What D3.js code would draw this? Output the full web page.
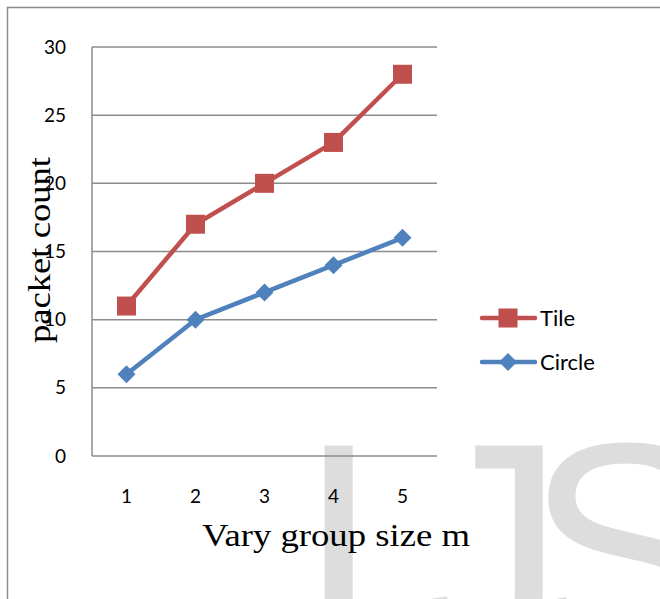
<!DOCTYPE html>
<html>
<head>
<meta charset="utf-8">
<script src="https://cdn.jsdelivr.net/npm/d3@7"></script>
<style>
  html, body { margin: 0; padding: 0; background: #fff; }
  svg { display: block; }
</style>
</head>
<body>
<svg id="chart" width="660" height="599"></svg>
<script>
// Packet count for each group size
const groupSizes = [1, 2, 3, 4, 5];
const tileCounts = [11, 17, 20, 23, 28];
const circleCounts = [6, 10, 12, 14, 16];
const yTicks = [0, 5, 10, 15, 20, 25, 30];
const seriesNames = ["Tile", "Circle"];
const seriesColors = ["#C0504D", "#4F81BD"];
const watermarkLetters = ["I", "J", "S"];

const svg = d3.select("#chart");
const W = 660, H = 599;
const plot = { left: 92, top: 47, right: 437, bottom: 456 };

// Watermark lettering behind the chart, one glyph at a time
const wm = svg.append("g")
  .attr("font-family", "'Liberation Sans', Arial, sans-serif")
  .attr("font-size", 300)
  .attr("fill", "#dddddd");
const wmX = [297, 415, 525];
watermarkLetters.forEach((ch, i) => {
  wm.append("text").attr("x", wmX[i]).attr("y", 652).text(ch);
});

// Outer frame
svg.append("rect")
  .attr("x", 7.5).attr("y", 7.5)
  .attr("width", W + 20).attr("height", H + 20)
  .attr("fill", "none").attr("stroke", "#8c8c8c").attr("stroke-width", 1.5);

const x = d3.scaleBand().domain(groupSizes).range([plot.left, plot.right]);
const y = d3.scaleLinear().domain([0, 30]).range([plot.bottom, plot.top]);

// Horizontal gridlines
svg.append("g").selectAll("line").data(yTicks).join("line")
  .attr("x1", plot.left).attr("x2", plot.right)
  .attr("y1", d => y(d)).attr("y2", d => y(d))
  .attr("stroke", "#8c8c8c").attr("stroke-width", 1.5);

// Vertical axis line
svg.append("line")
  .attr("x1", plot.left).attr("x2", plot.left)
  .attr("y1", plot.top).attr("y2", plot.bottom)
  .attr("stroke", "#8c8c8c").attr("stroke-width", 1.5);

// Y tick labels
const yAxis = d3.axisLeft(y).tickValues(yTicks).tickSize(0).tickPadding(26);
const gy = svg.append("g").attr("transform", `translate(${plot.left},0)`).call(yAxis);
gy.select(".domain").remove();
gy.selectAll("text")
  .attr("font-family", "Lato, 'Open Sans', sans-serif")
  .attr("font-size", 19).attr("fill", "#000");

// X tick labels
const xAxis = d3.axisBottom(x).tickSize(0).tickPadding(34);
const gx = svg.append("g").attr("transform", `translate(0,${plot.bottom})`).call(xAxis);
gx.select(".domain").remove();
gx.selectAll("text")
  .attr("font-family", "Lato, 'Open Sans', sans-serif")
  .attr("font-size", 19).attr("fill", "#000");

const cx = d => x(d) + x.bandwidth() / 2;
const series = [
  { name: seriesNames[0], color: seriesColors[0], values: tileCounts, marker: "square" },
  { name: seriesNames[1], color: seriesColors[1], values: circleCounts, marker: "diamond" }
];

const line = d3.line().x(d => cx(d[0])).y(d => y(d[1]));

function drawMarker(g, kind, color, px, py) {
  if (kind === "square") {
    g.append("rect")
      .attr("x", px - 9.5).attr("y", py - 9.5)
      .attr("width", 19).attr("height", 19)
      .attr("fill", color);
  } else {
    const r = 9;
    g.append("path")
      .attr("d", `M${px},${py - r}L${px + r},${py}L${px},${py + r}L${px - r},${py}Z`)
      .attr("fill", color);
  }
}

series.forEach(s => {
  const pts = groupSizes.map((g, i) => [g, s.values[i]]);
  svg.append("path")
    .attr("d", line(pts))
    .attr("fill", "none").attr("stroke", s.color)
    .attr("stroke-width", 4.5).attr("stroke-linejoin", "round").attr("stroke-linecap", "round");
  const mg = svg.append("g");
  pts.forEach(p => drawMarker(mg, s.marker, s.color, cx(p[0]), y(p[1])));
});

// Legend
const legend = svg.append("g");
series.forEach((s, i) => {
  const ly = 318 + i * 44;
  legend.append("line")
    .attr("x1", 482).attr("x2", 535).attr("y1", ly).attr("y2", ly)
    .attr("stroke", s.color).attr("stroke-width", 4.5).attr("stroke-linecap", "round");
  drawMarker(legend, s.marker, s.color, 508, ly);
  legend.append("text")
    .attr("x", 540).attr("y", ly).attr("dy", "0.35em")
    .attr("font-family", "Lato, 'Open Sans', sans-serif")
    .attr("font-size", 22).attr("fill", "#000")
    .text(s.name);
});

// Axis titles (slightly widened serif lettering)
svg.append("text")
  .attr("transform", "translate(50,250) rotate(-90)")
  .attr("text-anchor", "middle")
  .attr("font-family", "'Liberation Serif', 'Times New Roman', serif")
  .attr("font-size", 31).attr("fill", "#000")
  .attr("textLength", 186).attr("lengthAdjust", "spacingAndGlyphs")
  .text("packet count");

svg.append("text")
  .attr("x", 336).attr("y", 546)
  .attr("text-anchor", "middle")
  .attr("font-family", "'Liberation Serif', 'Times New Roman', serif")
  .attr("font-size", 31).attr("fill", "#000")
  .attr("textLength", 268).attr("lengthAdjust", "spacingAndGlyphs")
  .text("Vary group size m");
</script>
</body>
</html>
